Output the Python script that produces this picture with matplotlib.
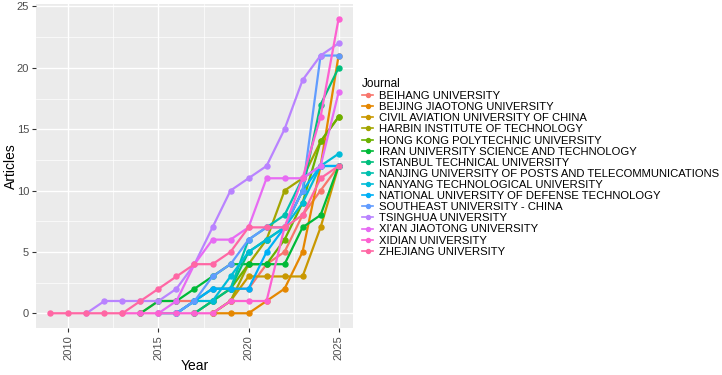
import matplotlib.pyplot as plt
import matplotlib.ticker as mticker

plt.rcParams['font.family'] = ['Liberation Sans', 'DejaVu Sans']

# Cumulative articles per year, each series starts at its first year
journals = [
    "BEIHANG UNIVERSITY",
    "BEIJING JIAOTONG UNIVERSITY",
    "CIVIL AVIATION UNIVERSITY OF CHINA",
    "HARBIN INSTITUTE OF TECHNOLOGY",
    "HONG KONG POLYTECHNIC UNIVERSITY",
    "IRAN UNIVERSITY SCIENCE AND TECHNOLOGY",
    "ISTANBUL TECHNICAL UNIVERSITY",
    "NANJING UNIVERSITY OF POSTS AND TELECOMMUNICATIONS",
    "NANYANG TECHNOLOGICAL UNIVERSITY",
    "NATIONAL UNIVERSITY OF DEFENSE TECHNOLOGY",
    "SOUTHEAST UNIVERSITY - CHINA",
    "TSINGHUA UNIVERSITY",
    "XI'AN JIAOTONG UNIVERSITY",
    "XIDIAN UNIVERSITY",
    "ZHEJIANG UNIVERSITY",
]
first_year = [2014, 2018, 2018, 2018, 2017, 2014, 2017, 2016, 2015, 2016, 2016, 2011, 2015, 2013, 2009]

beihang = [0, 1, 1, 1, 2, 2, 2, 4, 5, 8, 10, 12]
beijing_jiaotong = [0, 0, 0, 1, 2, 5, 12, 21]
civil_aviation = [0, 1, 3, 3, 3, 3, 7, 12]
harbin = [0, 1, 4, 6, 10, 11, 14, 16]
hong_kong = [0, 1, 2, 4, 4, 6, 9, 14, 16]
iran = [0, 1, 1, 2, 3, 4, 4, 4, 4, 7, 8, 12]
istanbul = [0, 1, 2, 5, 6, 7, 10, 17, 20]
nanjing = [0, 1, 2, 2, 6, 7, 8, 11, 12, 12]
nanyang = [0, 0, 1, 1, 3, 5, 6, 7, 9, 12, 13]
defense = [0, 1, 2, 2, 2, 5, 7, 10, 12, 12]
southeast = [0, 1, 3, 4, 6, 7, 7, 10, 21, 21]
tsinghua = [0, 1, 1, 1, 1, 2, 4, 7, 10, 11, 12, 15, 19, 21, 22]
xian_jiaotong = [0, 1, 4, 6, 6, 7, 11, 11, 11, 12, 18]
xidian = [0, 0, 0, 0, 0, 0, 1, 1, 1, 7, 11, 16, 24]
zhejiang = [0, 0, 0, 0, 0, 1, 2, 3, 4, 4, 5, 7, 7, 7, 8, 11, 12]

values = [beihang, beijing_jiaotong, civil_aviation, harbin, hong_kong, iran, istanbul,
          nanjing, nanyang, defense, southeast, tsinghua, xian_jiaotong, xidian, zhejiang]

colors = ["#F8766D", "#E58700", "#C99800", "#A3A500", "#6BB100", "#00BA38", "#00BF7D",
          "#00C0AF", "#00BCD8", "#00B0F6", "#619CFF", "#B983FF", "#E76BF3", "#FD61D1", "#FF67A4"]

fig = plt.figure(figsize=(7.22, 3.75), dpi=100)
ax = fig.add_axes([36 / 722, 1 - 328 / 375, 317 / 722, 324 / 375])
ax.set_facecolor("#EBEBEB")

for name, start, vals, col in zip(journals, first_year, values, colors):
    years = list(range(start, start + len(vals)))
    ax.plot(years, vals, color=col, linewidth=1.6, marker="o", markersize=3.6, label=name)

ax.set_xlim(2008.2, 2025.8)
ax.set_ylim(-1.2, 25.2)
ax.xaxis.set_major_locator(mticker.FixedLocator([2010, 2015, 2020, 2025]))
ax.xaxis.set_minor_locator(mticker.FixedLocator([2012.5, 2017.5, 2022.5]))
ax.yaxis.set_major_locator(mticker.MultipleLocator(5))
ax.yaxis.set_minor_locator(mticker.MultipleLocator(2.5))
ax.grid(which="major", color="white", linewidth=1.0)
ax.grid(which="minor", color="white", linewidth=0.5)
ax.set_axisbelow(True)
for s in ax.spines.values():
    s.set_visible(False)
ax.tick_params(which="major", length=3, color="#333333", labelcolor="#4D4D4D", labelsize=8, pad=2)
ax.tick_params(which="minor", length=0)
plt.setp(ax.get_xticklabels(), rotation=90)

ax.set_xlabel("Year", fontsize=10)
ax.set_ylabel("Articles", fontsize=10)
ax.xaxis.set_label_coords(0.5, (328 - 359) / 324)
ax.yaxis.set_label_coords((18 - 36) / 317, 0.5)

leg = ax.legend(loc="upper left", bbox_to_anchor=(354 / 722, 1 - 70 / 375),
                bbox_transform=fig.transFigure, frameon=False, title="Journal",
                fontsize=8.1, title_fontsize=8.5, handlelength=1.0, handletextpad=0.5,
                labelspacing=0.1, borderpad=0.2, markerscale=0.8)
leg._legend_box.align = "left"
for line in leg.get_lines():
    line.set_linewidth(1.2)

plt.savefig("out.png", dpi=100)
